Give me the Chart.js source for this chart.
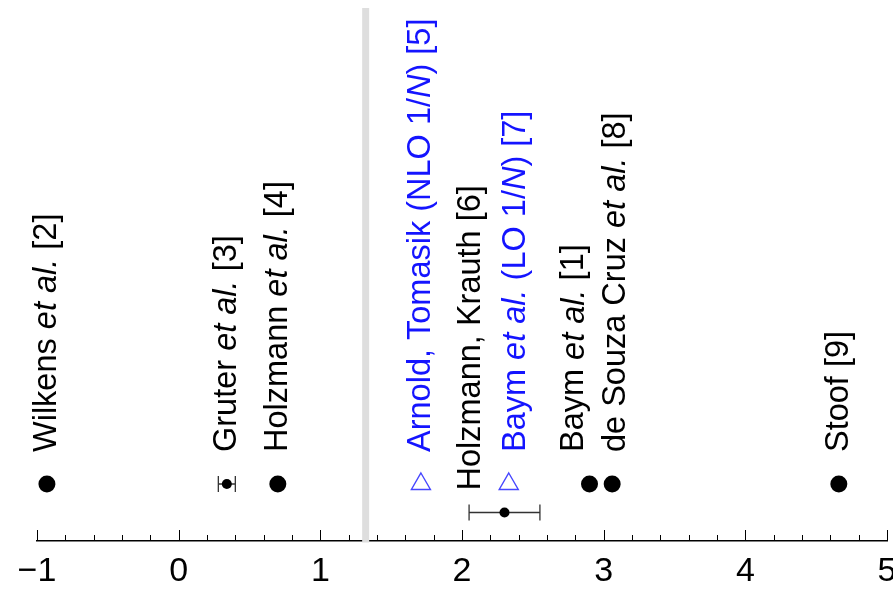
<!DOCTYPE html>
<html>
<head>
<meta charset="utf-8">
<script src="https://cdn.jsdelivr.net/npm/chart.js@4/dist/chart.umd.min.js"></script>
<style>
  html, body { margin: 0; padding: 0; background: #fff; overflow: hidden; }
  #wrap { width: 893px; height: 590px; }
</style>
</head>
<body>
<div id="wrap"><canvas id="myChart" width="893" height="590"></canvas></div>
<script>
// text between _ _ is set in italic
const names = [
	'Wilkens _et al._ [2]',
	'Gruter _et al._ [3]',
	'Holzmann _et al._ [4]',
	'Arnold, Tomasik (NLO 1/_N_) [5]',
	'Holzmann, Krauth [6]',
	'Baym _et al._ (LO 1/_N_) [7]',
	'Baym _et al._ [1]',
	'de Souza Cruz _et al._ [8]',
	'Stoof [9]'
];
const values  = [-0.93, 0.34, 0.70, 1.71, 2.30, 2.33, 2.90, 3.06, 4.66];
const errLow  = [null, 0.28, null, null, 2.05, null, null, null, null];
const errHigh = [null, 0.40, null, null, 2.55, null, null, null, null];
const rows    = [2, 2, 2, 2, 1, 2, 2, 2, 2];
const kinds   = ['dot', 'small', 'dot', 'tri', 'small', 'tri', 'dot', 'dot', 'dot'];
const latticeValue = 1.32;
const xTicks = [-1, 0, 1, 2, 3, 4, 5];

const blue = 'rgb(20,20,255)';
const fontName = '"Liberation Sans", Arial, sans-serif';

// small sideways nudges (px) Mathematica used to keep labels apart
const labelNudge = { 4: -33, 5: 7, 6: -15, 7: 4 };

function pointsOf(kind) {
	let out = [];
	values.forEach((v, i) => {
		if (kinds[i] === kind) out.push({ x: v, y: rows[i] });
	});
	return out;
}

const extras = {
	id: 'extras',
	beforeDatasetsDraw(chart) {
		let ctx = chart.ctx;
		let xs = chart.scales.x, ys = chart.scales.y;
		ctx.save();
		ctx.strokeStyle = '#333';
		ctx.lineWidth = 1.3;
		values.forEach((v, i) => {
			if (errLow[i] === null) return;
			let y = ys.getPixelForValue(rows[i]);
			let a = xs.getPixelForValue(errLow[i]);
			let b = xs.getPixelForValue(errHigh[i]);
			ctx.beginPath();
			ctx.moveTo(a, y); ctx.lineTo(b, y);
			ctx.moveTo(a, y - 8); ctx.lineTo(a, y + 8);
			ctx.moveTo(b, y - 8); ctx.lineTo(b, y + 8);
			ctx.stroke();
		});
		ctx.restore();
	},
	afterDraw(chart) {
		let ctx = chart.ctx;
		let xs = chart.scales.x, ys = chart.scales.y;
		let area = chart.chartArea;
		ctx.save();

		// tick marks point into the plot
		ctx.strokeStyle = '#000';
		ctx.lineWidth = 1;
		for (let i = -5; i <= 25; i++) {
			let px = Math.round(xs.getPixelForValue(i / 5)) + 0.5;
			let len = (i % 5 === 0) ? 11 : 6;
			ctx.beginPath();
			ctx.moveTo(px, area.bottom);
			ctx.lineTo(px, area.bottom - len);
			ctx.stroke();
		}

		// lattice result
		let gx = xs.getPixelForValue(latticeValue);
		ctx.fillStyle = '#dedede';
		ctx.fillRect(gx - 3.5, area.top, 7, area.bottom - area.top + 1.5);

		// rotated labels
		ctx.textBaseline = 'middle';
		ctx.textAlign = 'left';
		names.forEach((name, i) => {
			let px = xs.getPixelForValue(values[i]);
			let py = ys.getPixelForValue(rows[i]);
			let bottom = py - 32;
			if (errLow[i] !== null && rows[i] === 1) {
				bottom = py - 22;
			}
			ctx.save();
			ctx.translate(px + (labelNudge[i] || 0), bottom);
			ctx.rotate(-Math.PI / 2);
			ctx.fillStyle = kinds[i] === 'tri' ? blue : '#000';
			let x = 0;
			name.split('_').forEach((seg, k) => {
				ctx.font = (k % 2 ? 'italic ' : '') + '32.5px ' + fontName;
				ctx.fillText(seg, x, 0);
				x += ctx.measureText(seg).width;
			});
			ctx.restore();
		});
		ctx.restore();
	}
};

let ctx = document.getElementById('myChart');
let myChart = new Chart(ctx, {
	type: 'scatter',
	data: {
		datasets: [{
			data: pointsOf('dot'),
			pointStyle: 'circle',
			pointRadius: 8.5,
			backgroundColor: '#000',
			borderColor: '#000',
			borderWidth: 0
		}, {
			data: pointsOf('small'),
			pointStyle: 'circle',
			pointRadius: 5,
			backgroundColor: '#000',
			borderColor: '#000',
			borderWidth: 0
		}, {
			data: pointsOf('tri'),
			pointStyle: 'triangle',
			pointRadius: 11,
			backgroundColor: 'rgba(0,0,0,0)',
			borderColor: 'rgb(70,70,255)',
			borderWidth: 1.4
		}]
	},
	options: {
		responsive: false,
		animation: false,
		clip: false,
		layout: { autoPadding: false, padding: { left: 37, right: 6, top: 8, bottom: 0 } },
		plugins: {
			legend: { display: false },
			tooltip: { enabled: false }
		},
		scales: {
			x: {
				type: 'linear',
				min: -1,
				max: 5,
				afterBuildTicks: s => { s.ticks = xTicks.map(v => ({ value: v })); },
				afterFit: s => { s.height = 49; s.paddingLeft = 0; s.paddingRight = 0; },
				grid: { display: true, drawOnChartArea: false, drawTicks: false },
				border: { display: true, color: '#000', width: 1.5 },
				ticks: {
					autoSkip: false,
					maxRotation: 0,
					padding: 10,
					color: '#000',
					font: { family: fontName, size: 34 },
					callback: v => v < 0 ? '\u2212' + Math.abs(v) : String(v)
				}
			},
			y: {
				type: 'linear',
				display: false,
				min: 0,
				max: 18.7
			}
		}
	},
	plugins: [extras]
});
</script>
</body>
</html>
